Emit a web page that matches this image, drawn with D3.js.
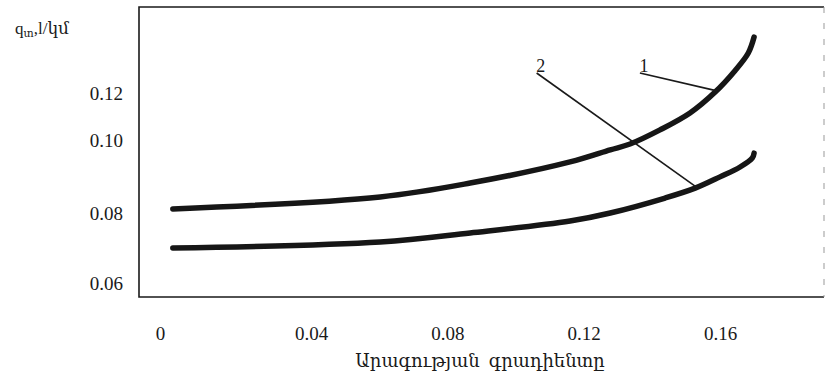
<!DOCTYPE html>
<html>
<head>
<meta charset="utf-8">
<script src="https://cdn.jsdelivr.net/npm/d3@7"></script>
<style>
  body { margin: 0; background: #fff; }
  svg { display: block; }
  text { font-family: "Liberation Serif", "DejaVu Serif", serif; fill: #1a1a1a; }
</style>
</head>
<body>
<div id="chart"></div>
<script>
// gradient of velocity (x) vs q (y), two curves
var xTicks = [0, 0.04, 0.08, 0.12, 0.16];
var yTicks = [0.06, 0.08, 0.10, 0.12];

var curve1X = [0.0034, 0.0603, 0.0867, 0.116, 0.1278, 0.1336, 0.1424, 0.1512, 0.1585, 0.1644, 0.1683, 0.17];
var curve1Y = [0.0811, 0.0844, 0.0882, 0.094, 0.0973, 0.0989, 0.1043, 0.1115, 0.1203, 0.1295, 0.137, 0.1438];

var curve2X = [0.0034, 0.0603, 0.0867, 0.116, 0.1278, 0.1439, 0.1527, 0.16, 0.1659, 0.1695, 0.17];
var curve2Y = [0.07, 0.0717, 0.0743, 0.0777, 0.08, 0.0841, 0.0868, 0.0899, 0.0926, 0.0951, 0.0964];

var curveLabels = ["1", "2"];
// label point and the point on the curve it points to
var labelAt = [[0.1365, 0.1285], [0.1062, 0.1285]];
var pointTo = [[0.1591, 0.1209], [0.1535, 0.0868]];

var xTitle = "Արագության  գրադիենտը";

var width = 825, height = 373;
var frameL = 139, frameT = 7, frameR = 824, frameB = 297;

var svg = d3.select("#chart").append("svg")
  .attr("width", width)
  .attr("height", height);

// the scanned axes are not evenly spaced, so scales are piecewise
var x = d3.scaleLinear().domain([0, 0.04, 0.16]).range([160, 311, 720]);
var y = d3.scaleLinear().domain([0.06, 0.08, 0.10, 0.12]).range([283, 213, 140, 93]);

// frame
var frame = svg.append("g").attr("fill", "none");
frame.append("path")
  .attr("d", "M" + frameR + "," + frameT + "H" + frameL + "V" + frameB + "H" + frameR)
  .attr("stroke", "#1a1a1a")
  .attr("stroke-width", 1.6);
frame.append("line")
  .attr("x1", frameR).attr("x2", frameR).attr("y1", frameT).attr("y2", frameB)
  .attr("stroke-width", 1).attr("stroke", "#999").attr("stroke-dasharray", "6,10");

// axes: labels only
svg.append("g")
  .attr("transform", "translate(" + frameL + ",0)")
  .call(d3.axisLeft(y).tickValues(yTicks).tickSize(0).tickPadding(16)
    .tickFormat(d3.format(".2f")));
svg.append("g")
  .attr("transform", "translate(0," + frameB + ")")
  .call(d3.axisBottom(x).tickValues(xTicks).tickSize(0).tickPadding(30)
    .tickFormat(function(d){ return d === 0 ? "0" : d3.format(".2f")(d); }));
svg.selectAll(".domain").remove();
svg.selectAll(".tick text")
  .attr("font-family", "Liberation Serif, DejaVu Serif, serif")
  .attr("font-size", 19)
  .attr("fill", "#1a1a1a");

// curves
var line = d3.line()
  .x(function(d){ return x(d[0]); })
  .y(function(d){ return y(d[1]); })
  .curve(d3.curveCatmullRom.alpha(0.5));

[[curve1X, curve1Y], [curve2X, curve2Y]].forEach(function(c){
  svg.append("path")
    .datum(d3.zip(c[0], c[1]))
    .attr("d", line)
    .attr("fill", "none")
    .attr("stroke", "#161616")
    .attr("stroke-width", 5.5)
    .attr("stroke-linecap", "round");
});

// leader lines with the numbers
curveLabels.forEach(function(lab, i){
  svg.append("line")
    .attr("x1", x(labelAt[i][0])).attr("y1", y(labelAt[i][1]))
    .attr("x2", x(pointTo[i][0])).attr("y2", y(pointTo[i][1]))
    .attr("stroke", "#1a1a1a").attr("stroke-width", 1.6);
  svg.append("text")
    .attr("x", x(labelAt[i][0]) + 4)
    .attr("y", y(labelAt[i][1]) - 1)
    .attr("text-anchor", "middle")
    .attr("font-size", 18)
    .text(lab);
});

// titles
var yt = svg.append("text").attr("x", 15).attr("y", 34).attr("font-size", 17);
yt.append("tspan").text("q");
yt.append("tspan").attr("font-size", 11).attr("dy", 3).text("տ");
yt.append("tspan").attr("dy", -3).text(",l/կմ");

svg.append("text")
  .attr("x", 480).attr("y", 367)
  .attr("text-anchor", "middle")
  .attr("font-size", 18)
  .style("white-space", "pre")
  .text(xTitle);
</script>
</body>
</html>
